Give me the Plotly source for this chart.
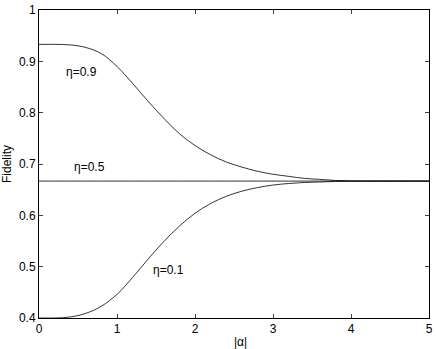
import plotly.graph_objects as go

# |alpha| sample points
alpha = [0.0, 0.2, 0.4, 0.6, 0.8, 1.0, 1.2, 1.4, 1.6, 1.8, 2.0, 2.2, 2.4,
         2.6, 2.8, 3.0, 3.2, 3.4, 3.6, 3.8, 4.0, 4.2, 4.4, 4.6, 4.8, 5.0]

fid_09 = [0.933, 0.933, 0.932, 0.927, 0.915, 0.890, 0.857, 0.822, 0.789,
          0.759, 0.736, 0.718, 0.704, 0.694, 0.686, 0.680, 0.676, 0.672,
          0.670, 0.668, 0.667, 0.6667, 0.6667, 0.6667, 0.6667, 0.6667]
fid_05 = [0.6667] * len(alpha)
fid_01 = [0.400, 0.400, 0.402, 0.409, 0.423, 0.446, 0.479, 0.515, 0.549,
          0.579, 0.604, 0.623, 0.637, 0.647, 0.654, 0.659, 0.662, 0.664,
          0.665, 0.666, 0.6665, 0.6667, 0.6667, 0.6667, 0.6667, 0.6667]

labels = ["η=0.9", "η=0.5", "η=0.1"]
label_x = [0.545, 0.65, 1.66]
label_y = [0.879, 0.695, 0.493]

font = "Liberation Sans, Arial, sans-serif"

fig = go.Figure()
for ys in (fid_09, fid_05, fid_01):
    fig.add_trace(
        go.Scatter(
            x=alpha,
            y=ys,
            mode="lines",
            line={"color": "black", "width": 0.8, "shape": "spline"},
            showlegend=False,
            hoverinfo="skip",
        )
    )

for t, x, y in zip(labels, label_x, label_y):
    fig.add_annotation(
        x=x, y=y, text=t, showarrow=False,
        font={"family": font, "size": 12, "color": "black"},
    )

# axis titles as paper annotations so the plot box stays put
fig.add_annotation(
    x=0.5, y=0, xref="paper", yref="paper",
    xanchor="center", yanchor="middle", xshift=6, yshift=-24,
    text="|α|", showarrow=False,
    font={"family": font, "size": 12, "color": "black"},
)
fig.add_annotation(
    x=0, y=0.5, xref="paper", yref="paper",
    xanchor="center", yanchor="middle", xshift=-32,
    text="Fidelity", textangle=-90, showarrow=False,
    font={"family": font, "size": 12, "color": "black"},
)

fig.update_layout(
    width=436,
    height=349,
    margin={"l": 39, "r": 7, "t": 10, "b": 31, "autoexpand": False},
    paper_bgcolor="white",
    plot_bgcolor="white",
    font={"family": font, "size": 12, "color": "black"},
)
fig.update_xaxes(
    range=[0, 5],
    tickvals=[0, 1, 2, 3, 4, 5],
    ticks="inside",
    ticklen=4,
    ticklabeloverflow="allow",
    automargin=False,
    showgrid=False,
    zeroline=False,
    showline=True,
    linecolor="black",
    linewidth=1,
    mirror="ticks",
)
fig.update_yaxes(
    range=[0.4, 1],
    tickvals=[0.4, 0.5, 0.6, 0.7, 0.8, 0.9, 1.0],
    ticktext=["0.4", "0.5", "0.6", "0.7", "0.8", "0.9", "1"],
    ticks="inside",
    ticklen=4,
    ticklabeloverflow="allow",
    automargin=False,
    showgrid=False,
    zeroline=False,
    showline=True,
    linecolor="black",
    linewidth=1,
    mirror="ticks",
)

# drop the page's default body margin so the 436x349 figure fills the window
fig.write_html(
    "out.html",
    config={"displayModeBar": False},
    post_script="document.body.style.margin = '0';",
)
